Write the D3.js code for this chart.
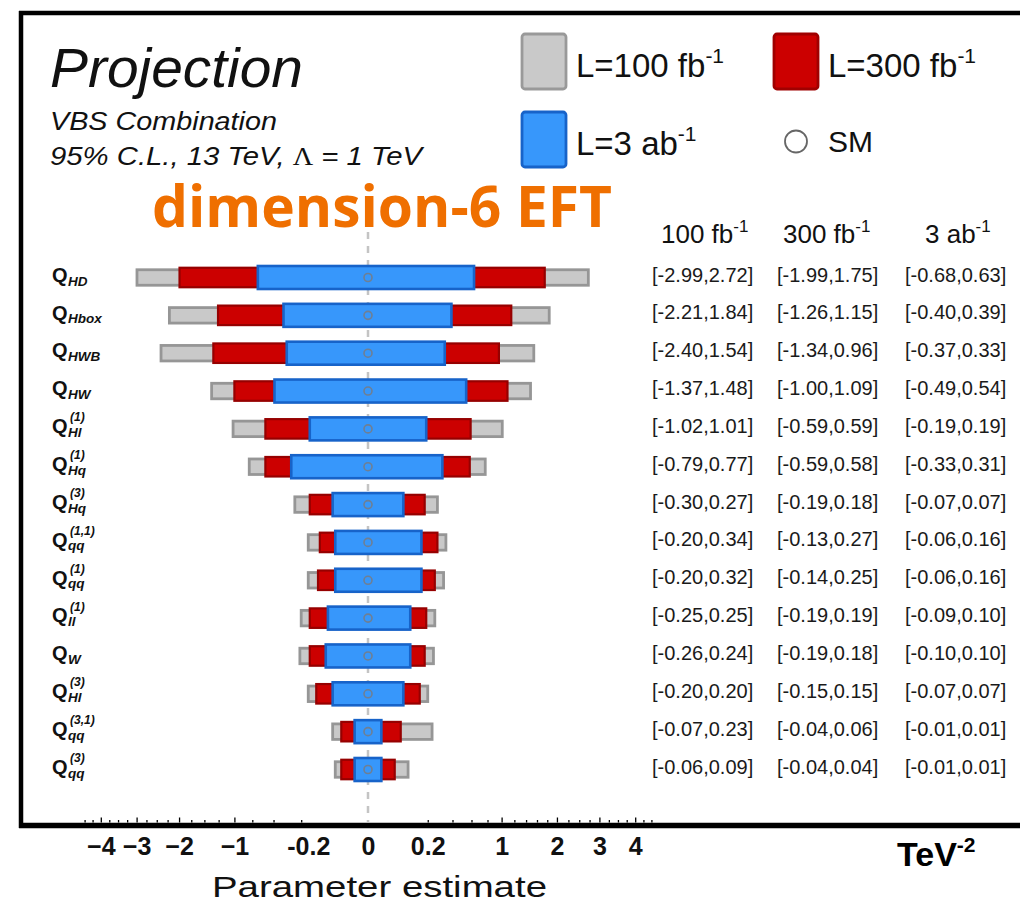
<!DOCTYPE html>
<html>
<head>
<meta charset="utf-8">
<script src="https://cdn.jsdelivr.net/npm/d3@7"></script>
<style>
  body { margin: 0; background: #fff; }
  svg { display: block; }
</style>
</head>
<body>
<svg id="chart" width="1020" height="903"></svg>
<script>
// ---- data -----------------------------------------------------------
const operators    = ["HD","Hbox","HWB","HW","Hl1","Hq1","Hq3","qq11","qq1","ll1","W","Hl3","qq31","qq3"];
const subscripts   = ["HD","Hbox","HWB","HW","Hl","Hq","Hq","qq","qq","ll","W","Hl","qq","qq"];
const superscripts = ["","","","","(1)","(1)","(3)","(1,1)","(1)","(1)","","(3)","(3,1)","(3)"];

// 95% C.L. intervals [low, high] in TeV^-2
const limits100fb = [[-2.99,2.72],[-2.21,1.84],[-2.40,1.54],[-1.37,1.48],[-1.02,1.01],[-0.79,0.77],[-0.30,0.27],
                     [-0.20,0.34],[-0.20,0.32],[-0.25,0.25],[-0.26,0.24],[-0.20,0.20],[-0.07,0.23],[-0.06,0.09]];
const limits300fb = [[-1.99,1.75],[-1.26,1.15],[-1.34,0.96],[-1.00,1.09],[-0.59,0.59],[-0.59,0.58],[-0.19,0.18],
                     [-0.13,0.27],[-0.14,0.25],[-0.19,0.19],[-0.19,0.18],[-0.15,0.15],[-0.04,0.06],[-0.04,0.04]];
const limits3ab   = [[-0.68,0.63],[-0.40,0.39],[-0.37,0.33],[-0.49,0.54],[-0.19,0.19],[-0.33,0.31],[-0.07,0.07],
                     [-0.06,0.16],[-0.06,0.16],[-0.09,0.10],[-0.10,0.10],[-0.07,0.07],[-0.01,0.01],[-0.01,0.01]];
const smValue = 0;

const lumiUnits = ["fb", "fb", "ab"];
const lumiNumbers = ["100", "300", "3"];

const majorTicks = [-4, -3, -2, -1, 1, 2, 3, 4];
const minorTicks = [-4.5, -4.25, -3.75, -3.5, -3.25, -2.75, -2.5, -2.25, -1.75, -1.5, -1.25, -0.75, -0.5, -0.25,
                    0.2, 0.4, 0.6, 0.8, 1.2, 1.4, 1.6, 1.8, 2.25, 2.5, 2.75, 3.25, 3.5, 3.75, 4.25, 4.5];
const labelTicks = [-4, -3, -2, -1, -0.2, 0, 0.2, 1, 2, 3, 4];
const tickLabels = ["\u22124", "\u22123", "\u22122", "\u22121", "-0.2", "0", "0.2", "1", "2", "3", "4"];

// ---- setup ----------------------------------------------------------
const svg = d3.select("#chart");
const SANS = "'Liberation Sans', Arial, Helvetica, sans-serif";

// signed square-root axis
const x = d3.scaleSqrt().domain([-4, 4]).range([100.8, 635.2]);
const y = d3.scalePoint().domain(operators).range([277.5, 769.5]);

const rows = operators.map((op, i) => ({
  op, sub: subscripts[i], sup: superscripts[i],
  l100: limits100fb[i], l300: limits300fb[i], l3: limits3ab[i]
}));

// ---- frame ----------------------------------------------------------
const frame = svg.append("g").attr("fill", "none").attr("stroke", "#000");
frame.append("line").attr("x1", 19).attr("x2", 1020).attr("y1", 13).attr("y2", 13).attr("stroke-width", 4.5);
frame.append("line").attr("x1", 21).attr("x2", 21).attr("y1", 11).attr("y2", 828).attr("stroke-width", 4.5);
frame.append("line").attr("x1", 19).attr("x2", 1020).attr("y1", 825.5).attr("y2", 825.5).attr("stroke-width", 5.5);

// ---- SM reference line ----------------------------------------------
svg.append("line")
  .attr("x1", x(smValue)).attr("x2", x(smValue))
  .attr("y1", 232).attr("y2", 822)
  .attr("stroke", "#c4c4c4").attr("stroke-width", 2.5)
  .attr("stroke-dasharray", "7,7");

// ---- interval bars --------------------------------------------------
const barStyles = [
  { key: "l100", h: 15.5, fill: "#c9c9c9", stroke: "#969696", sw: 2.8 },
  { key: "l300", h: 19.5, fill: "#cc0000", stroke: "#960000", sw: 2.2 },
  { key: "l3",   h: 23,   fill: "#3797fb", stroke: "#1763c9", sw: 2.6 }
];
barStyles.forEach(s => {
  svg.append("g").selectAll("rect").data(rows).join("rect")
    .attr("x", d => x(d[s.key][0]))
    .attr("width", d => x(d[s.key][1]) - x(d[s.key][0]))
    .attr("y", d => y(d.op) - s.h / 2)
    .attr("height", s.h)
    .attr("fill", s.fill)
    .attr("stroke", s.stroke)
    .attr("stroke-width", s.sw);
});

// SM markers
svg.append("g").selectAll("circle").data(rows).join("circle")
  .attr("cx", x(smValue)).attr("cy", d => y(d.op)).attr("r", 4)
  .attr("fill", "none").attr("stroke", "#6f7f93").attr("stroke-width", 1.6);

// ---- operator labels ------------------------------------------------
const lab = svg.append("g").attr("font-family", SANS).attr("fill", "#111");
rows.forEach(d => {
  const yy = y(d.op);
  lab.append("text").attr("x", 52).attr("y", yy + 4.3)
    .attr("font-size", 20).attr("font-weight", "bold").text("Q");
  lab.append("text").attr("x", 68).attr("y", yy + 8)
    .attr("font-size", 13.5).attr("font-weight", "bold").attr("font-style", "italic").text(d.sub);
  if (d.sup) {
    lab.append("text").attr("x", 70).attr("y", yy - 7.5)
      .attr("font-size", 12).attr("font-weight", "bold").attr("font-style", "italic").text(d.sup);
  }
});

// ---- interval table -------------------------------------------------
const fmt = d3.formatLocale({ decimal: ".", thousands: ",", grouping: [3], currency: ["", ""], minus: "-" }).format(".2f");
const colX = [652, 777, 905];
const tbl = svg.append("g").attr("font-family", SANS).attr("font-size", 20).attr("fill", "#1a1a1a");
["l100", "l300", "l3"].forEach((k, c) => {
  tbl.append("g").selectAll("text").data(rows).join("text")
    .attr("x", colX[c]).attr("y", d => y(d.op) + 4)
    .text(d => `[${fmt(d[k][0])},${fmt(d[k][1])}]`);
});

// column headers
const headX = [661, 783, 925];
lumiNumbers.forEach((n, c) => {
  const t = svg.append("text").attr("x", headX[c]).attr("y", 243)
    .attr("font-family", SANS).attr("font-size", 26).attr("fill", "#111");
  t.append("tspan").text(`${n} ${lumiUnits[c]}`);
  t.append("tspan").attr("dy", -11).attr("font-size", 17).text("-1");
});

// ---- axis -----------------------------------------------------------
const gMajor = svg.append("g").attr("transform", "translate(0,822.5)")
  .call(d3.axisBottom(x).tickValues(majorTicks).tickSizeInner(-5).tickSizeOuter(0).tickFormat(""));
const gMinor = svg.append("g").attr("transform", "translate(0,822.5)")
  .call(d3.axisBottom(x).tickValues(minorTicks).tickSizeInner(-2.5).tickSizeOuter(0).tickFormat(""));
[gMajor, gMinor].forEach(g => {
  g.select(".domain").remove();
  g.selectAll(".tick line").attr("stroke", "#000").attr("stroke-width", 1.3);
});

const gLab = svg.append("g").attr("transform", "translate(0,828)")
  .call(d3.axisBottom(x).tickValues(labelTicks).tickSize(0)
    .tickFormat((v, i) => tickLabels[i]));
gLab.select(".domain").remove();
gLab.selectAll(".tick text")
  .attr("y", 27).attr("dy", null)
  .attr("font-family", SANS).attr("font-size", 25).attr("font-weight", "bold").attr("fill", "#111");

svg.append("text").attr("x", 212).attr("y", 897)
  .attr("font-family", SANS).attr("font-size", 30).attr("fill", "#111")
  .attr("textLength", 335).attr("lengthAdjust", "spacingAndGlyphs")
  .text("Parameter estimate");

const unit = svg.append("text").attr("x", 897).attr("y", 866)
  .attr("font-family", SANS).attr("font-weight", "bold").attr("fill", "#000");
unit.append("tspan").attr("font-size", 34).text("TeV");
unit.append("tspan").attr("font-size", 21).attr("dy", -14).text("-2");

// ---- header texts ---------------------------------------------------
svg.append("text").attr("x", 50).attr("y", 87)
  .attr("font-family", SANS).attr("font-style", "italic").attr("font-size", 55).attr("fill", "#111")
  .attr("textLength", 253).attr("lengthAdjust", "spacingAndGlyphs")
  .text("Projection");
svg.append("text").attr("x", 50).attr("y", 130)
  .attr("font-family", SANS).attr("font-style", "italic").attr("font-size", 26).attr("fill", "#111")
  .attr("textLength", 227).attr("lengthAdjust", "spacingAndGlyphs")
  .text("VBS Combination");
const cond = svg.append("text").attr("x", 50).attr("y", 165)
  .attr("font-family", SANS).attr("font-style", "italic").attr("font-size", 26).attr("fill", "#111")
  .attr("textLength", 372).attr("lengthAdjust", "spacingAndGlyphs");
cond.append("tspan").text("95% C.L., 13 TeV, ");
cond.append("tspan").attr("font-family", "'Liberation Serif', 'DejaVu Serif', serif")
  .attr("font-style", "normal").attr("font-size", 25).text("\u039B");
cond.append("tspan").text(" = 1 TeV");

svg.append("text").attr("x", 152).attr("y", 227)
  .attr("font-family", "'Open Sans', 'Noto Sans', sans-serif").attr("font-weight", "bold")
  .attr("font-size", 57).attr("fill", "#ef6f00")
  .attr("textLength", 460).attr("lengthAdjust", "spacingAndGlyphs")
  .text("dimension-6 EFT");

// ---- legend ---------------------------------------------------------
const legendItems = [
  { x: 522, y: 34,  fill: "#c9c9c9", stroke: "#999999", num: "100", unit: "fb" },
  { x: 774, y: 34,  fill: "#cc0000", stroke: "#a00000", num: "300", unit: "fb" },
  { x: 522, y: 112, fill: "#3797fb", stroke: "#1763c9", num: "3",   unit: "ab" }
];
legendItems.forEach(it => {
  svg.append("rect").attr("x", it.x).attr("y", it.y).attr("width", 44).attr("height", 55)
    .attr("rx", 3).attr("fill", it.fill).attr("stroke", it.stroke).attr("stroke-width", 2.8);
  const t = svg.append("text").attr("x", it.x + 54).attr("y", it.y + 43)
    .attr("font-family", SANS).attr("font-size", 33).attr("fill", "#111");
  t.append("tspan").text(`L=${it.num} ${it.unit}`);
  t.append("tspan").attr("dy", -14).attr("font-size", 21).text("-1");
});
svg.append("circle").attr("cx", 796).attr("cy", 141.5).attr("r", 11)
  .attr("fill", "#fff").attr("stroke", "#666").attr("stroke-width", 1.8);
svg.append("text").attr("x", 828).attr("y", 152)
  .attr("font-family", SANS).attr("font-size", 30).attr("fill", "#111").text("SM");
</script>
</body>
</html>
